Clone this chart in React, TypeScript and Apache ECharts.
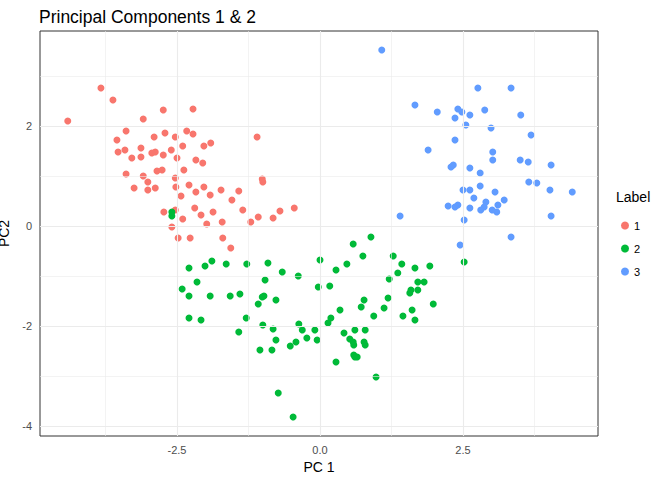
import React, { useEffect, useRef } from "react";
import * as echarts from "echarts";

const red: number[][] = [
[-4.41,2.10],[-3.83,2.76],[-3.62,2.52],[-3.09,2.14],[-2.74,2.32],[-2.22,2.34],[-3.55,1.72],[-3.53,1.48],[-3.39,1.90],[-3.41,1.52],
[-3.29,1.36],[-3.13,1.38],[-2.88,1.48],[-2.85,1.10],[-3.25,0.76],[-2.88,0.76],[-2.76,1.12],[-2.74,1.42],[-2.60,1.52],[-2.50,1.36],
[-2.33,1.90],[-2.53,1.78],[-2.71,1.86],[-2.90,1.78],[-2.40,1.60],[-2.22,1.84],[-2.03,1.60],[-1.91,1.66],[-2.05,1.26],[-2.17,1.32],
[-2.38,1.12],[-2.53,0.96],[-2.52,0.78],[-2.29,0.82],[-2.17,0.68],[-2.03,0.78],[-1.92,0.62],[-1.87,0.28],[-1.73,0.72],[-1.54,0.52],
[-1.42,0.70],[-1.35,0.32],[-1.71,0.08],[-2.08,0.22],[-2.40,0.14],[-2.27,-0.24],[-2.48,-0.24],[-2.59,-0.02],[-2.53,0.32],[-2.73,0.28],
[-2.43,0.60],[-2.19,0.36],[-1.98,0.04],[-1.70,-0.24],[-1.56,-0.44],[-1.10,1.78],[-1.00,0.88],[-1.01,0.94],[-1.08,0.18],[-1.21,0.08],
[-0.82,0.16],[-0.45,0.36],[-0.70,0.30],[-2.94,1.46],[-3.09,1.00],[-3.01,0.88],[-3.13,1.56],[-3.39,1.04],[-3.01,0.72]];
const green: number[][] = [
[-2.59,0.28],[-2.59,0.20],[-2.29,-0.84],[-2.01,-0.80],[-1.89,-0.70],[-1.64,-0.76],[-1.28,-0.76],[-1.40,-1.36],[-1.01,-1.42],[-0.98,-1.40],
[-0.91,-0.74],[-0.66,-0.92],[-0.38,-1.00],[-1.57,-1.40],[-1.92,-1.40],[-2.29,-1.40],[-2.15,-1.12],[-2.41,-1.26],[-2.29,-1.84],[-2.08,-1.88],
[-1.42,-2.12],[-1.29,-1.84],[-1.08,-1.56],[-0.96,-1.08],[-0.77,-1.48],[-0.82,-2.06],[-1.00,-1.98],[-1.05,-2.48],[-0.77,-2.28],[-0.84,-2.48],
[-0.37,-1.96],[-0.31,-2.08],[-0.42,-2.32],[-0.52,-2.40],[-0.73,-3.34],[-0.47,-3.82],[-0.03,-1.22],[0.17,-1.20],[0,-0.68],[0.28,-0.88],
[0.58,-0.36],[0.89,-0.22],[0.75,-0.60],[0.47,-0.76],[1.28,-0.60],[1.43,-0.76],[1.66,-0.84],[1.92,-0.80],[1.59,-1.28],[1.57,-1.34],
[1.71,-1.12],[1.71,-1.28],[1.98,-1.56],[1.36,-0.94],[1.21,-1.06],[1.19,-1.44],[0.94,-1.80],[1.12,-1.64],[1.45,-1.80],[1.61,-1.68],
[1.66,-1.88],[1.82,-1.12],[2.52,-0.72],[0.19,-1.84],[0.14,-1.94],[0.35,-1.68],[0.61,-2.08],[0.42,-2.14],[0.52,-2.26],[0.59,-2.38],
[0.58,-2.32],[0.79,-2.08],[0.79,-2.38],[0.65,-2.62],[0.59,-2.58],[0.77,-2.32],[0.28,-2.72],[0.98,-3.02],[-0.05,-2.28],[-0.09,-2.08],
[-0.23,-2.24],[0.77,-1.48],[0.61,-2.62],[0.72,-1.62]];
const blue: number[][] = [
[1.08,3.52],[1.66,2.42],[2.05,2.28],[1.89,1.52],[2.36,2.16],[2.41,2.34],[2.48,2.28],[2.55,2.02],[2.62,2.22],[2.76,2.76],
[2.88,2.32],[2.99,1.96],[3.34,2.76],[3.51,2.22],[3.69,1.82],[3.02,1.48],[3.02,1.32],[2.36,1.72],[2.33,1.22],[2.29,1.18],
[2.62,1.16],[2.80,1.06],[2.50,0.72],[2.62,0.72],[2.80,0.80],[3.06,0.68],[2.90,0.48],[2.87,0.38],[3.09,0.28],[3.11,0.42],
[3.01,0.32],[2.62,0.36],[2.41,0.42],[2.24,0.40],[2.36,0.38],[2.69,0.56],[2.52,0.12],[2.45,-0.38],[2.81,0.32],[3.50,1.32],
[3.64,1.28],[3.65,0.88],[3.79,0.86],[4.02,0.72],[4.41,0.68],[4.04,1.22],[4.04,0.20],[3.34,-0.22],[1.40,0.20],[3.22,0.52]];

const labels = ["1", "2", "3"];
const colors = ["#F8766D", "#00BA38", "#619CFF"];
const xMajor = [-2.5, 0, 2.5];
const xMinor = [-3.75, -1.25, 1.25, 3.75];
const yMajor = [-4, -2, 0, 2];
const yMinor = [-3, -1, 1, 3];

export default function App() {
  const ref = useRef<HTMLDivElement>(null);
  useEffect(() => {
    const chart = echarts.init(ref.current!, undefined, { renderer: "svg" });
    const gl = (w: number) => ({ lineStyle: { color: "#ebebeb", width: w, type: "solid" as const } });
    chart.setOption({
      animation: false,
      title: { text: "Principal Components 1 & 2", left: 34, top: 3, textStyle: { fontSize: 17.5, fontWeight: "normal", color: "#000", fontFamily: "Liberation Sans, Arial" } },
      grid: { left: 40, right: 74, top: 31, bottom: 44, containLabel: false, outerBoundsMode: "none", show: true, borderColor: "#333", borderWidth: 1, backgroundColor: "#fff" },
      xAxis: {
        type: "value", min: -4.895, max: 4.86, name: "PC 1", nameLocation: "middle", nameGap: 22,
        nameTextStyle: { fontSize: 14, color: "#000", fontFamily: "Liberation Sans, Arial" },
        splitLine: { show: false }, axisLine: { show: false },
        axisTick: { show: true, length: 3, lineStyle: { color: "#333" }, customValues: xMajor },
        axisLabel: { color: "#4d4d4d", fontSize: 11, customValues: xMajor, formatter: (v: number) => v.toFixed(1) },
      },
      yAxis: {
        type: "value", min: -4.2, max: 3.9, name: "PC2", nameLocation: "middle", nameGap: 26,
        nameTextStyle: { fontSize: 14, color: "#000", fontFamily: "Liberation Sans, Arial" },
        splitLine: { show: false }, axisLine: { show: false },
        axisTick: { show: true, length: 3, lineStyle: { color: "#333" }, customValues: yMajor },
        axisLabel: { color: "#4d4d4d", fontSize: 11, customValues: yMajor, formatter: (v: number) => String(v) },
      },
      legend: {
        data: labels, orient: "vertical", left: 616, top: 215, itemGap: 12, itemWidth: 8, itemHeight: 8,
        icon: "circle", textStyle: { fontSize: 11, color: "#000" },
      },
      graphic: [{ type: "text", left: 616, top: 190, style: { text: "Label", fontSize: 14, fill: "#000", fontFamily: "Liberation Sans, Arial" } }],
      series: [
        {
          type: "scatter", name: "grid", data: [], z: 0, silent: true,
          markLine: {
            silent: true, symbol: "none", label: { show: false }, animation: false,
            data: [
              ...xMinor.map((v) => ({ xAxis: v, ...gl(0.6) })),
              ...yMinor.map((v) => ({ yAxis: v, ...gl(0.6) })),
              ...xMajor.map((v) => ({ xAxis: v, ...gl(1.1) })),
              ...yMajor.map((v) => ({ yAxis: v, ...gl(1.1) })),
            ],
          },
        },
        ...[red, green, blue].map((d, i) => ({
          type: "scatter", name: labels[i], data: d, symbolSize: 7, z: 3,
          itemStyle: { color: colors[i], opacity: 1 },
        })),
      ],
    });
    return () => chart.dispose();
  }, []);
  return <div ref={ref} style={{ position: "fixed", left: 0, top: 0, width: 672, height: 480, background: "#fff" }} />;
}
